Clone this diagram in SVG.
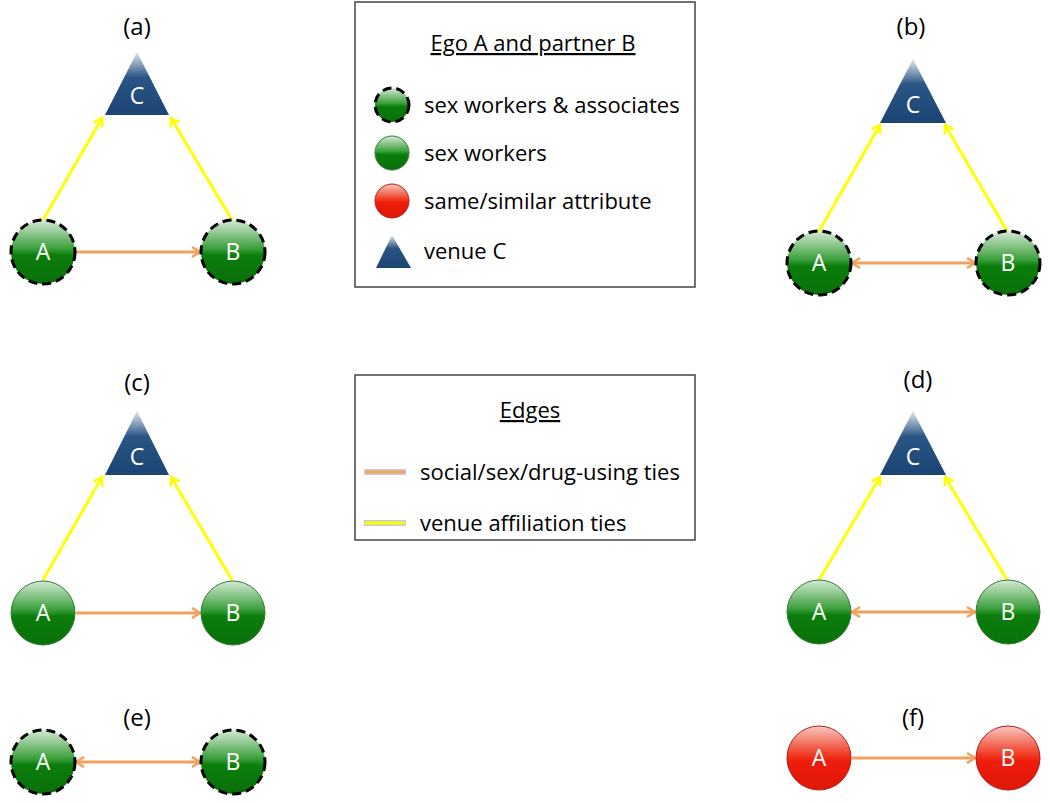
<svg xmlns="http://www.w3.org/2000/svg" width="1050" height="803" viewBox="0 0 1050 803">
<style>
  text { font-family: "Open Sans", "Liberation Sans", sans-serif; }
  .lbl { font-size: 24px; fill: #000; text-anchor: middle; }
  .nt { font-size: 23px; fill: #fff; text-anchor: middle; }
  .lg { font-size: 22px; fill: #000; }
  .ttl { font-size: 22px; fill: #000; text-anchor: middle; text-decoration: underline; }
  .green { fill: url(#gGreen); stroke: #2e7d32; stroke-width: 1; }
  .dashed { fill: url(#gGreen); stroke: #000; stroke-width: 3; stroke-dasharray: 9 5; }
  .red { fill: url(#gRed); stroke: #b71c1c; stroke-width: 1; }
  .tri { fill: url(#gBlue); }
  .soc { stroke: #f2a15f; stroke-width: 3; fill: none; }
  .ven { stroke: #ffff00; stroke-width: 3; fill: none; }
  .box { fill: #fff; stroke: #444; stroke-width: 1.5; }
</style>
<defs>
  <linearGradient id="gGreen" x1="0" y1="0" x2="0" y2="1">
    <stop offset="0" stop-color="#d6ead6"/>
    <stop offset="0.45" stop-color="#3a9f3a"/>
    <stop offset="0.55" stop-color="#0b7d0b"/>
    <stop offset="1" stop-color="#0a700a"/>
  </linearGradient>
  <linearGradient id="gRed" x1="0" y1="0" x2="0" y2="1">
    <stop offset="0" stop-color="#f8c8c0"/>
    <stop offset="0.45" stop-color="#f03a22"/>
    <stop offset="0.55" stop-color="#ee1c0c"/>
    <stop offset="1" stop-color="#e01808"/>
  </linearGradient>
  <linearGradient id="gBlue" x1="0" y1="0" x2="0" y2="1">
    <stop offset="0" stop-color="#e2e8ef"/>
    <stop offset="0.4" stop-color="#2a5585"/>
    <stop offset="1" stop-color="#1c4473"/>
  </linearGradient>
  <marker id="aOr" viewBox="0 0 12 12" refX="10" refY="6" markerWidth="12" markerHeight="12" markerUnits="userSpaceOnUse" orient="auto-start-reverse">
    <path d="M2,1 L10,6 L2,11" fill="none" stroke="#f2a15f" stroke-width="2.5"/>
  </marker>
  <marker id="aYe" viewBox="0 0 12 12" refX="10" refY="6" markerWidth="12" markerHeight="12" markerUnits="userSpaceOnUse" orient="auto">
    <path d="M2,1 L10,6 L2,11" fill="none" stroke="#ffff00" stroke-width="2.5"/>
  </marker>
</defs>

<rect width="1050" height="803" fill="#fff"/>

<!-- panel labels -->
<text class="lbl" x="137" y="35">(a)</text>
<text class="lbl" x="911" y="35">(b)</text>
<text class="lbl" x="137" y="391">(c)</text>
<text class="lbl" x="918" y="388">(d)</text>
<text class="lbl" x="137" y="726">(e)</text>
<text class="lbl" x="913" y="726">(f)</text>

<g id="connectors">
  <!-- (a) -->
  <line class="ven" x1="43" y1="220" x2="102" y2="118" marker-end="url(#aYe)"/>
  <line class="ven" x1="232" y1="220" x2="171" y2="118" marker-end="url(#aYe)"/>
  <line class="soc" x1="76" y1="252" x2="200" y2="252" marker-end="url(#aOr)"/>
  <!-- (b) -->
  <line class="ven" x1="819" y1="231" x2="880" y2="125" marker-end="url(#aYe)"/>
  <line class="ven" x1="1007" y1="231" x2="945" y2="125" marker-end="url(#aYe)"/>
  <line class="soc" x1="852" y1="263" x2="975" y2="263" marker-start="url(#aOr)" marker-end="url(#aOr)"/>
  <!-- (c) -->
  <line class="ven" x1="43" y1="580" x2="102" y2="477" marker-end="url(#aYe)"/>
  <line class="ven" x1="232" y1="580" x2="171" y2="477" marker-end="url(#aYe)"/>
  <line class="soc" x1="76" y1="613" x2="200" y2="613" marker-end="url(#aOr)"/>
  <!-- (d) -->
  <line class="ven" x1="819" y1="580" x2="880" y2="477" marker-end="url(#aYe)"/>
  <line class="ven" x1="1007" y1="580" x2="945" y2="477" marker-end="url(#aYe)"/>
  <line class="soc" x1="852" y1="612" x2="975" y2="612" marker-start="url(#aOr)" marker-end="url(#aOr)"/>
  <!-- (e) -->
  <line class="soc" x1="76" y1="762" x2="200" y2="762" marker-start="url(#aOr)" marker-end="url(#aOr)"/>
  <!-- (f) -->
  <line class="soc" x1="852" y1="758" x2="975" y2="758" marker-end="url(#aOr)"/>
</g>

<!-- (a) nodes -->
<g id="a-C"><polygon class="tri" points="137,52 105,115 169,115"/><text class="nt" x="137" y="104">C</text></g>
<g id="a-A"><circle class="dashed" cx="43" cy="252" r="32"/><text class="nt" x="43" y="260">A</text></g>
<g id="a-B"><circle class="dashed" cx="233" cy="252" r="32"/><text class="nt" x="233" y="260">B</text></g>

<!-- (b) nodes -->
<g id="b-C"><polygon class="tri" points="913,59 880,123 946,123"/><text class="nt" x="913" y="113">C</text></g>
<g id="b-A"><circle class="dashed" cx="819" cy="263" r="32"/><text class="nt" x="819" y="271">A</text></g>
<g id="b-B"><circle class="dashed" cx="1008" cy="263" r="32"/><text class="nt" x="1008" y="271">B</text></g>

<!-- (c) nodes -->
<g id="c-C"><polygon class="tri" points="137,411 105,475 169,475"/><text class="nt" x="137" y="465">C</text></g>
<g id="c-A"><circle class="green" cx="43" cy="613" r="32"/><text class="nt" x="43" y="621">A</text></g>
<g id="c-B"><circle class="green" cx="233" cy="613" r="32"/><text class="nt" x="233" y="621">B</text></g>

<!-- (d) nodes -->
<g id="d-C"><polygon class="tri" points="913,411 880,475 946,475"/><text class="nt" x="913" y="465">C</text></g>
<g id="d-A"><circle class="green" cx="819" cy="612" r="32"/><text class="nt" x="819" y="620">A</text></g>
<g id="d-B"><circle class="green" cx="1008" cy="612" r="32"/><text class="nt" x="1008" y="620">B</text></g>

<!-- (e) nodes -->
<g id="e-A"><circle class="dashed" cx="43" cy="762" r="32"/><text class="nt" x="43" y="770">A</text></g>
<g id="e-B"><circle class="dashed" cx="233" cy="762" r="32"/><text class="nt" x="233" y="770">B</text></g>

<!-- (f) nodes -->
<g id="f-A"><circle class="red" cx="819" cy="758" r="32"/><text class="nt" x="819" y="766">A</text></g>
<g id="f-B"><circle class="red" cx="1008" cy="758" r="32"/><text class="nt" x="1008" y="766">B</text></g>

<!-- legend 1 -->
<g id="legend-nodes">
  <rect class="box" x="355" y="2" width="340" height="285"/>
  <text class="ttl" x="533" y="51">Ego A and partner B</text>
  <circle class="dashed" cx="392" cy="105" r="17" stroke-width="2.5"/>
  <text class="lg" x="424" y="113">sex workers &amp; associates</text>
  <circle class="green" cx="392" cy="153" r="17"/>
  <text class="lg" x="424" y="161">sex workers</text>
  <circle class="red" cx="392" cy="201" r="17"/>
  <text class="lg" x="424" y="209">same/similar attribute</text>
  <polygon class="tri" points="392,235 376,268 411,268"/>
  <text class="lg" x="424" y="259">venue C</text>
</g>

<!-- legend 2 -->
<g id="legend-edges">
  <rect class="box" x="355" y="375" width="340" height="165"/>
  <text class="ttl" x="530" y="418">Edges</text>
  <line x1="364" y1="472" x2="406" y2="472" stroke="#c8ccd4" stroke-width="6"/>
  <line class="soc" x1="365" y1="472" x2="405" y2="472"/>
  <text class="lg" x="420" y="480">social/sex/drug-using ties</text>
  <line x1="364" y1="523" x2="406" y2="523" stroke="#c8ccd4" stroke-width="6"/>
  <line class="ven" x1="365" y1="523" x2="405" y2="523"/>
  <text class="lg" x="420" y="531">venue affiliation ties</text>
</g>
</svg>
